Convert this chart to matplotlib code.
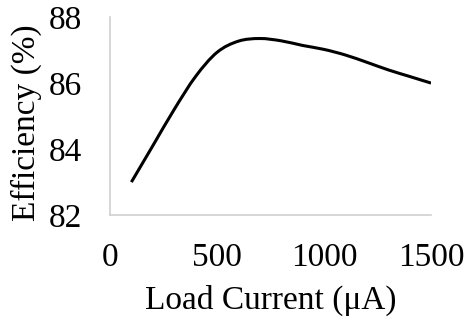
import matplotlib
matplotlib.use("Agg")
import matplotlib.pyplot as plt
from matplotlib.path import Path
from matplotlib.patches import PathPatch

# load current sweep (uA) and measured efficiency (%)
load_current = [100, 200, 300, 400, 500, 600, 700, 800, 900, 1000, 1100, 1200, 1300, 1400, 1500]
efficiency = [83.0, 84.1, 85.2, 86.2, 86.93, 87.27, 87.35, 87.28, 87.14, 87.02, 86.85, 86.63, 86.4, 86.2, 86.0]

x_ticks = [0, 500, 1000, 1500]
y_ticks = [82, 84, 86, 88]


def smooth_path(xs, ys, tension=1.0 / 6):
    # cubic bezier through every point, spreadsheet style smoothed line
    pts = list(zip(xs, ys))
    verts = [pts[0]]
    codes = [Path.MOVETO]
    for i in range(len(pts) - 1):
        p0 = pts[i - 1] if i > 0 else pts[i]
        p1 = pts[i]
        p2 = pts[i + 1]
        p3 = pts[i + 2] if i + 2 < len(pts) else pts[i + 1]
        c1 = (p1[0] + (p2[0] - p0[0]) * tension, p1[1] + (p2[1] - p0[1]) * tension)
        c2 = (p2[0] - (p3[0] - p1[0]) * tension, p2[1] - (p3[1] - p1[1]) * tension)
        verts += [c1, c2, p2]
        codes += [Path.CURVE4] * 3
    return Path(verts, codes)


plt.rcParams["font.family"] = ["Liberation Serif", "DejaVu Serif"]

fig = plt.figure(figsize=(4.66, 3.22), dpi=100)
ax = fig.add_axes([0.236, 0.332, 0.689, 0.615])

ax.add_patch(PathPatch(smooth_path(load_current, efficiency), facecolor="none",
                       edgecolor="black", linewidth=2.2, capstyle="butt"))

ax.set_xlim(0, 1500)
ax.set_ylim(82, 88)
ax.set_xticks(x_ticks)
ax.set_yticks(y_ticks)
ax.tick_params(axis="both", length=0, labelsize=24)
ax.tick_params(axis="y", pad=20)
ax.tick_params(axis="x", pad=20)

for side in ["top", "right"]:
    ax.spines[side].set_visible(False)
for side in ["left", "bottom"]:
    ax.spines[side].set_color("#d0d0d0")
    ax.spines[side].set_linewidth(1.2)

ax.set_xlabel("Load Current (μA)", fontsize=24, labelpad=8)
ax.set_ylabel("Efficiency (%)", fontsize=24)
ax.yaxis.set_label_coords(-0.212, 0.467)

fig.savefig("out.png", dpi=100)
